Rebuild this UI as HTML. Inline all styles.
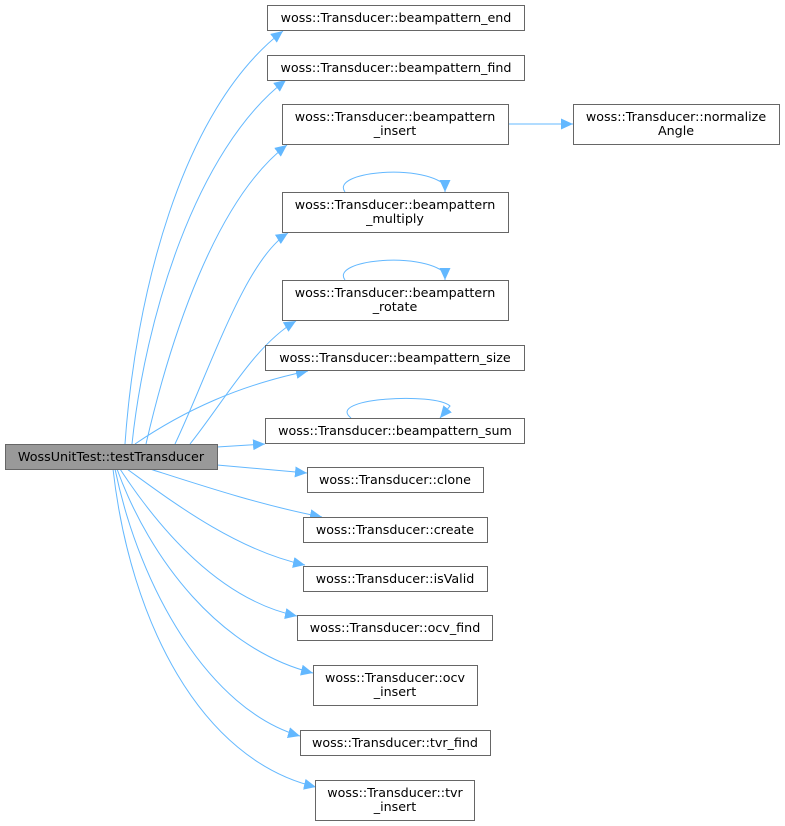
<!DOCTYPE html>
<html><head><meta charset="utf-8"><style>
html,body{margin:0;padding:0;background:#fff;}
svg{display:block;}
text{font-family:"DejaVu Sans","Liberation Sans",sans-serif;font-size:12.7px;fill:#000;}
</style></head><body>
<svg width="785" height="826" viewBox="0 0 785 826" xmlns="http://www.w3.org/2000/svg">
<defs>
<marker id="a" markerWidth="13" markerHeight="11" refX="12" refY="5.5" orient="auto" markerUnits="userSpaceOnUse">
<path d="M0,0 L12,5.5 L0,11 Z" fill="#63b8ff"/>
</marker>
</defs>
<g fill="none" stroke="#63b8ff" stroke-width="1">
<path marker-end="url(#a)" d="M125,444 C135,300 180,110 283,31"/>
<path marker-end="url(#a)" d="M132,444 C145,320 195,150 286,80"/>
<path marker-end="url(#a)" d="M146,444 C170,340 215,200 287,145"/>
<path marker-end="url(#a)" d="M175,444 C210,370 245,260 288,233"/>
<path marker-end="url(#a)" d="M190,444 C225,400 255,345 296,321"/>
<path marker-end="url(#a)" d="M135,444 C185,410 240,385 308,371"/>
<path marker-end="url(#a)" d="M217,447 L265,444"/>
<path marker-end="url(#a)" d="M217,465 L307,473"/>
<path marker-end="url(#a)" d="M150,469 C200,485 260,505 322,517"/>
<path marker-end="url(#a)" d="M127,469 C170,500 235,550 305,565"/>
<path marker-end="url(#a)" d="M120,469 C160,530 220,600 297,616"/>
<path marker-end="url(#a)" d="M117,469 C150,560 220,650 313,673"/>
<path marker-end="url(#a)" d="M115,469 C140,590 210,710 300,736"/>
<path marker-end="url(#a)" d="M113,469 C130,620 200,760 316,787"/>
<path marker-end="url(#a)" d="M508,124 L573,124"/>
<path marker-end="url(#a)" d="M345,192 C330,172 420,163 445,185 L445,192"/>
<path marker-end="url(#a)" d="M345,280 C330,260 420,251 445,273 L445,280"/>
<path marker-end="url(#a)" d="M351,418 C325,398 435,392 450,406 L440,418"/>
</g>
<g fill="#fff" stroke="#666" stroke-width="1">
<rect x="267.5" y="5.5" width="257" height="25"/>
<rect x="267.5" y="55.5" width="257" height="25"/>
<rect x="282.5" y="104.5" width="226" height="40"/>
<rect x="282.5" y="192.5" width="226" height="40"/>
<rect x="282.5" y="280.5" width="226" height="40"/>
<rect x="265.5" y="345.5" width="259" height="25"/>
<rect x="265.5" y="418.5" width="259" height="25"/>
<rect x="307.5" y="467.5" width="176" height="25"/>
<rect x="303.5" y="517.5" width="184" height="25"/>
<rect x="303.5" y="566.5" width="184" height="25"/>
<rect x="297.5" y="615.5" width="195" height="25"/>
<rect x="313.5" y="665.5" width="164" height="40"/>
<rect x="300.5" y="730.5" width="190" height="25"/>
<rect x="315.5" y="780.5" width="159" height="40"/>
<rect x="573.5" y="104.5" width="206" height="40"/>
<rect x="5.5" y="444.5" width="212" height="25" fill="#999"/>
</g>
<g text-anchor="middle">
<text x="396" y="22">woss::Transducer::beampattern_end</text>
<text x="396" y="72">woss::Transducer::beampattern_find</text>
<text x="395" y="121">woss::Transducer::beampattern</text>
<text x="395" y="135">_insert</text>
<text x="395" y="209">woss::Transducer::beampattern</text>
<text x="395" y="223">_multiply</text>
<text x="395" y="297">woss::Transducer::beampattern</text>
<text x="395" y="311">_rotate</text>
<text x="395" y="362">woss::Transducer::beampattern_size</text>
<text x="395" y="435">woss::Transducer::beampattern_sum</text>
<text x="395" y="484">woss::Transducer::clone</text>
<text x="395" y="534">woss::Transducer::create</text>
<text x="395" y="583">woss::Transducer::isValid</text>
<text x="395" y="632">woss::Transducer::ocv_find</text>
<text x="395" y="682">woss::Transducer::ocv</text>
<text x="395" y="696">_insert</text>
<text x="395" y="747">woss::Transducer::tvr_find</text>
<text x="395" y="797">woss::Transducer::tvr</text>
<text x="395" y="811">_insert</text>
<text x="676" y="121">woss::Transducer::normalize</text>
<text x="676" y="135">Angle</text>
<text x="111" y="461">WossUnitTest::testTransducer</text>
</g>
</svg>
</body></html>
